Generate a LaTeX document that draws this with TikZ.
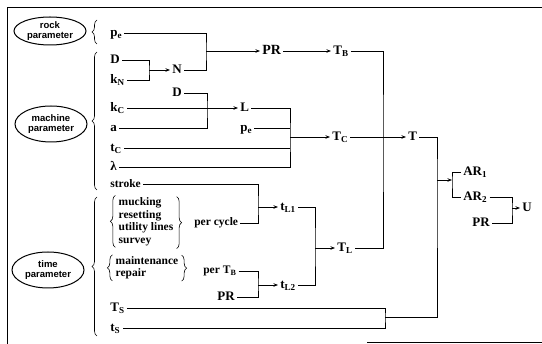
\documentclass[tikz,border=0pt]{standalone}
\usepackage{fontspec}
\setmainfont{Liberation Serif}
\setsansfont{Liberation Sans}
\usetikzlibrary{shapes.geometric,arrows.meta,decorations.pathreplacing}

\begin{document}
\begin{tikzpicture}[x=1pt,y=-1pt,line width=0.7pt,
  >={Stealth[length=4.5pt,width=3.5pt]},
  param/.style={ellipse,draw,line width=1pt,minimum width=72pt,minimum height=32pt,
    inner xsep=0pt,inner ysep=-2pt,align=center,font=\sffamily\bfseries\fontsize{9.5}{10.5}\selectfont},
  lbl/.style={anchor=west,inner sep=2pt,text height=9pt,text depth=2pt,
    font=\bfseries\fontsize{13}{14}\selectfont},
  word/.style={anchor=west,inner sep=2pt,font=\bfseries\fontsize{11.5}{12.5}\selectfont},
  curly/.style={decorate,decoration={brace,amplitude=5pt},line width=0.6pt}]
  \useasboundingbox (0,0) rectangle (542,344);
  \draw (542,7) -- (7,7) -- (7,344);
  \draw (367,342) -- (542,342);

  \node[param,minimum height=28pt] (rock) at (50,31) {rock\\parameter};
  \node[param,minimum height=36pt] (mach) at (51,124) {machine\\parameter};
  \node[param,minimum height=36pt] (time) at (48,270) {time\\parameter};
  \draw[curly] (97,44) -- (97,20);
  \draw[curly] (97,190) -- (97,52);
  \draw[curly] (97,336) -- (97,197);

  \node[lbl] (pe1) at (108,33) {p\textsubscript{e}};
  \node[lbl] (D1) at (108,60) {D};
  \node[lbl] (kN) at (108,80) {k\textsubscript{N}};
  \node[lbl] (N) at (170,70) {N};
  \node[lbl] (D2) at (170,93) {D};
  \node[lbl] (kC) at (108,108) {k\textsubscript{C}};
  \node[lbl] (a) at (108,128) {a};
  \node[lbl] (tC) at (108,148) {t\textsubscript{C}};
  \node[lbl] (lam) at (108,167) {λ};
  \node[word] (stroke) at (108,184) {stroke};
  \node[lbl] (L) at (238,108) {L};
  \node[lbl] (pe2) at (238,128) {p\textsubscript{e}};
  \node[lbl,font=\bfseries\fontsize{14}{15}\selectfont] (PR1) at (260,51) {PR};
  \node[lbl] (TB) at (331,51) {T\textsubscript{B}};
  \node[lbl] (TC) at (330,137) {T\textsubscript{C}};
  \node[lbl] (T) at (406,137) {T};
  \node[lbl] (AR1) at (461,172) {AR\textsubscript{1}};
  \node[lbl] (AR2) at (461,197) {AR\textsubscript{2}};
  \node[lbl] (PR3) at (470,223) {PR};
  \node[lbl] (U) at (520,208) {U};

  \node[word,anchor=center,inner sep=0pt] (tasks) at (146,222)
    {\begin{tabular}{@{}l@{}}mucking\\resetting\\utility lines\\survey\end{tabular}};
  \draw[curly] (tasks.south west) ++(-3,0) -- ++(0,-52);
  \draw[curly] (tasks.north east) ++(3,0) -- ++(0,52);
  \node[word] (percyc) at (192,223) {per cycle};
  \node[word,anchor=center,inner sep=0pt] (maint) at (147,268)
    {\begin{tabular}{@{}l@{}}maintenance\\repair\end{tabular}};
  \draw[curly] (maint.south west) ++(-3,0) -- ++(0,-26);
  \draw[curly] (maint.north east) ++(3,0) -- ++(0,26);
  \node[word] (perTB) at (201,271) {per T\textsubscript{B}};
  \node[lbl] (PR2) at (215,297) {PR};
  \node[lbl] (tL1) at (278,207) {t\textsubscript{L1}};
  \node[lbl] (tL2) at (278,285) {t\textsubscript{L2}};
  \node[lbl] (TL) at (335,248) {T\textsubscript{L}};
  \node[lbl] (TS) at (108,308) {T\textsubscript{S}};
  \node[lbl] (tS) at (108,328) {t\textsubscript{S}};

  \coordinate (j1) at (206,51);
  \coordinate (j2) at (149,70);
  \coordinate (j3) at (207,108);
  \coordinate (j4) at (290,137);
  \coordinate (j5) at (258,207);
  \coordinate (j6) at (258,285);
  \coordinate (j7) at (315,248);
  \coordinate (j8) at (383,137);
  \coordinate (j9) at (385,317);
  \coordinate (j10) at (437,180);
  \coordinate (j11) at (452,180);
  \coordinate (j12) at (512,208);

  \draw (pe1) -| (j1) |- (N);
  \draw[->] (j1) -- (PR1);
  \draw[->] (PR1) -- (TB);
  \draw (D1) -| (j2) |- (kN);
  \draw[->] (j2) -- (N);
  \draw (D2) -| (j3) |- (a);
  \draw[->] (kC) -- (L);
  \draw (L) -| (j4) |- (lam);
  \draw (pe2) -- (pe2 -| j4);
  \draw (tC) -- (tC -| j4);
  \draw[->] (j4) -- (TC);
  \draw (stroke) -| (j5) |- (percyc);
  \draw[->] (j5) -- (tL1);
  \draw (perTB) -| (j6) |- (PR2);
  \draw[->] (j6) -- (tL2);
  \draw (tL1) -| (j7) |- (tL2);
  \draw[->] (j7) -- (TL);
  \draw (TB) -| (j8) |- (TL);
  \draw[->] (TC) -- (T);
  \draw (TS) -| (j9) |- (tS);
  \draw (T) -| (j10) |- (j9);
  \draw[->] (j10) -- (j11);
  \draw (AR1) -| (j11) |- (AR2);
  \draw (AR2) -| (j12) |- (PR3);
  \draw[->] (j12) -- (U);
\end{tikzpicture}
\end{document}
